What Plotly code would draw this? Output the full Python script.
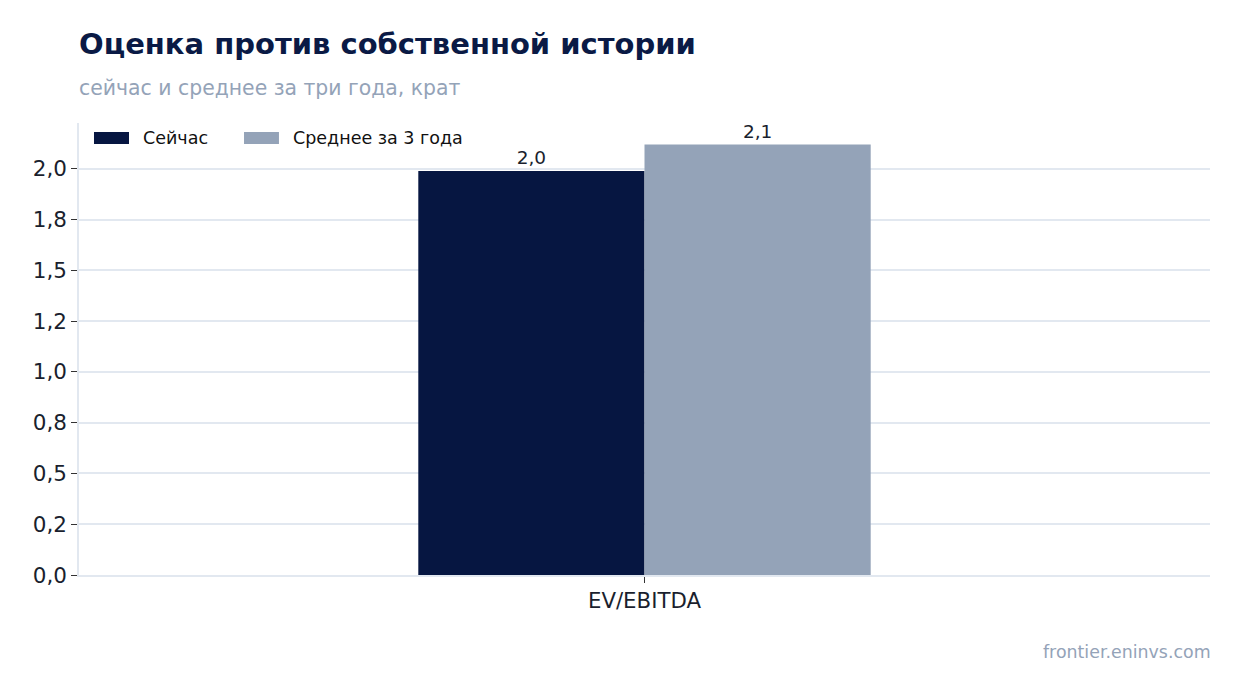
import plotly.graph_objects as go

NAVY = "#061641"
SLATE = "#94a3b8"
GRID = "#e2e8f0"
TEXT = "#1a1f2e"

categories = ["EV/EBITDA"]
now_values = [1.99]
avg_values = [2.12]
series_names = ["Сейчас", "Среднее за 3 года"]
y_ticks = [0.0, 0.25, 0.5, 0.75, 1.0, 1.25, 1.5, 1.75, 2.0]


def fmt(v):
    return f"{v:.1f}".replace(".", ",")


fig = go.Figure()
for name, vals, color in (
    (series_names[0], now_values, NAVY),
    (series_names[1], avg_values, SLATE),
):
    fig.add_trace(
        go.Bar(
            x=categories, y=vals, name=name, marker=dict(color=color, line=dict(width=0)),
            text=[fmt(v) for v in vals], textposition="outside", cliponaxis=False,
            textfont=dict(size=18.5, color=TEXT),
        )
    )

# legend drawn by hand: wide flat swatches like the original
legend_items = [
    (series_names[0], NAVY, 0.01326, 0.04421, 0.0548),
    (series_names[1], SLATE, 0.1459, 0.1768, 0.1874),
]
shapes = []
annotations = []
for name, color, x0, x1, xt in legend_items:
    shapes.append(dict(type="rect", xref="paper", yref="paper", x0=x0, x1=x1,
                       y0=0.9535, y1=0.9801, fillcolor=color, line=dict(width=0)))
    annotations.append(dict(text=name, xref="paper", yref="paper", x=xt, y=0.9668,
                            xanchor="left", yanchor="middle", showarrow=False,
                            font=dict(size=17.5, color="#111111")))

annotations += [
    dict(text="<b>Оценка против собственной истории</b>", xref="paper", yref="paper",
         x=-0.0018, y=1.1748, xanchor="left", yanchor="middle", showarrow=False,
         font=dict(size=29, color="#0a1a45")),
    dict(text="сейчас и среднее за три года, крат", xref="paper", yref="paper",
         x=-0.0018, y=1.0774, xanchor="left", yanchor="middle", showarrow=False,
         font=dict(size=20.4, color="#94a3b8")),
    dict(text="frontier.eninvs.com", xref="paper", yref="paper",
         x=1.0027, y=-0.1704, xanchor="right", yanchor="middle", showarrow=False,
         font=dict(size=17.4, color="#94a3b8")),
]

fig.update_layout(
    width=1233, height=685,
    margin=dict(l=71, r=31, t=115, b=118),
    paper_bgcolor="white", plot_bgcolor="white",
    font=dict(family="DejaVu Sans", color=TEXT),
    barmode="group", bargap=0.2, bargroupgap=0,
    showlegend=False,
    shapes=shapes,
    annotations=annotations,
)

fig.update_xaxes(
    type="category", range=[-1, 1],
    showline=True, linecolor=GRID, linewidth=1.5,
    ticks="outside", ticklen=6, tickcolor="#333333",
    tickfont=dict(size=21.3, color=TEXT), showgrid=False,
)
fig.update_yaxes(
    range=[0, 2.226], tickvals=y_ticks, ticktext=[fmt(v) for v in y_ticks],
    showgrid=True, gridcolor=GRID, gridwidth=1.5,
    showline=True, linecolor=GRID, linewidth=1.5,
    ticks="outside", ticklen=6, tickcolor="#333333",
    tickfont=dict(size=21.5, color=TEXT), zeroline=False,
)

fig.write_html("out.html")
